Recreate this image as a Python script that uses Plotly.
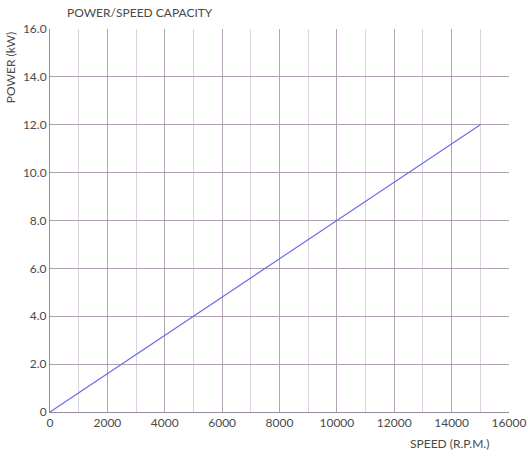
import plotly.graph_objects as go

speed_rpm = [0, 15000]
power_kw = [0, 12.0]

y_tick_vals = [0, 2, 4, 6, 8, 10, 12, 14, 16]
y_tick_text = ["0", "2.0", "4.0", "6.0", "8.0", "10.0", "12.0", "14.0", "16.0"]
x_tick_vals = [0, 2000, 4000, 6000, 8000, 10000, 12000, 14000, 16000]
x_tick_text = ["0", "2000", "4000", "6000", "8000", "10000", "12000", "14000", "16000"]

FONT = "Lato, 'DejaVu Sans', sans-serif"
TXT = "#4a4a4a"
FS = 12

fig = go.Figure()
fig.add_trace(go.Scatter(
    x=speed_rpm, y=power_kw, mode="lines",
    line=dict(color="#6e6ee0", width=1.2),
    showlegend=False, hoverinfo="skip",
))

fig.update_layout(
    width=528, height=458, autosize=False,
    margin=dict(l=50, r=19, t=29, b=46, autoexpand=False),
    paper_bgcolor="white", plot_bgcolor="white",
    font=dict(family=FONT, size=FS, color=TXT),
    xaxis=dict(
        range=[0, 16000], tickvals=x_tick_vals, ticktext=x_tick_text,
        automargin=False, ticklabeloverflow="allow",
        showgrid=True, gridcolor="#b3a4b5", gridwidth=1,
        minor=dict(dtick=1000, showgrid=True, gridcolor="#dcd4dd", gridwidth=1),
        showline=True, linecolor="#9a8a9e", linewidth=1, mirror=False,
        zeroline=False, ticks="", ticklen=0,
        tickfont=dict(family=FONT, size=FS, color=TXT),
    ),
    yaxis=dict(
        range=[0, 16], tickvals=y_tick_vals, ticktext=y_tick_text,
        automargin=False,
        showgrid=True, gridcolor="#b09fb3", gridwidth=1,
        showline=True, linecolor="#9a8a9e", linewidth=1,
        zeroline=False, ticks="", ticklen=0,
        tickfont=dict(family=FONT, size=FS, color=TXT),
    ),
    annotations=[
        dict(text="POWER/SPEED CAPACITY", xref="paper", yref="paper",
             x=0.196, y=1.042, xanchor="center", yanchor="middle",
             showarrow=False, font=dict(family=FONT, size=FS, color=TXT)),
        dict(text="POWER (kW)", xref="paper", yref="paper",
             x=-0.087, y=0.898, xanchor="center", yanchor="middle",
             textangle=-90, showarrow=False,
             font=dict(family=FONT, size=FS, color=TXT)),
        dict(text="SPEED (R.P.M.)", xref="paper", yref="paper",
             x=0.871, y=-0.081, xanchor="center", yanchor="middle",
             showarrow=False, font=dict(family=FONT, size=FS, color=TXT)),
    ],
)

fig.write_html(
    "out.html",
    config={"displayModeBar": False, "responsive": False},
    post_script="document.body.style.margin='0';document.body.style.overflow='hidden';",
)
